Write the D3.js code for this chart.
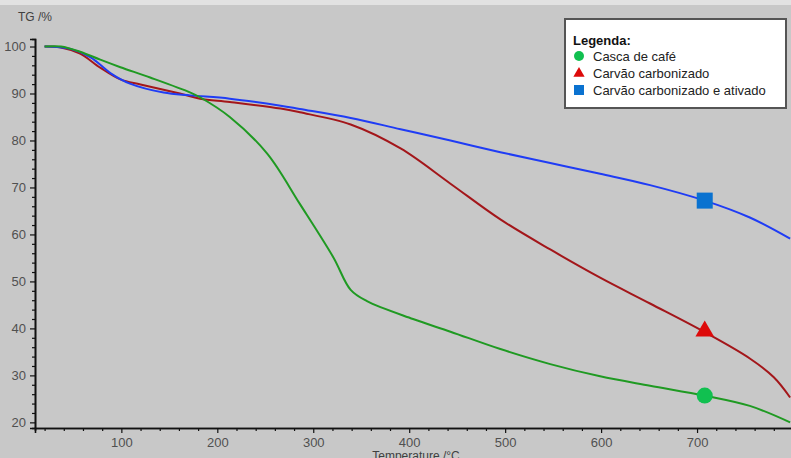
<!DOCTYPE html>
<html>
<head>
<meta charset="utf-8">
<script src="https://cdn.jsdelivr.net/npm/d3@7"></script>
<style>
  body { margin: 0; background: #c8c8c8; }
  text { font-family: Arial, "Liberation Sans", sans-serif; }
</style>
</head>
<body>
<div id="chart"></div>
<script>
// data (temperature in °C, mass in %)
var tempCafe   = [20, 37, 57, 78, 99, 130, 172, 182, 213, 252, 286, 321, 339, 356, 404, 443, 495, 547, 599, 651, 708, 755, 797];
var massCafe   = [100, 100, 98.9, 97.2, 95.6, 93.4, 90.2, 89.2, 85, 77.2, 66.5, 55.1, 48.2, 45.8, 42.0, 39.3, 35.6, 32.4, 29.8, 27.8, 25.7, 23.5, 20];

var tempCarv   = [20, 37, 57, 78, 99, 120, 161, 182, 213, 266, 286, 339, 391, 443, 495, 547, 599, 651, 708, 755, 780, 797];
var massCarv   = [100, 99.8, 98.5, 95.5, 93, 91.9, 90, 88.9, 88.2, 86.8, 86.0, 83.4, 78.3, 70.8, 63.2, 56.8, 50.8, 45.3, 39.2, 33.6, 29.6, 25.3];

var tempAtiv   = [20, 47, 68, 89, 109, 144, 172, 213, 266, 286, 339, 391, 443, 495, 547, 599, 651, 708, 755, 797];
var massAtiv   = [100, 99.5, 97.7, 94.3, 92.1, 90.2, 89.6, 88.9, 87.4, 86.7, 84.8, 82.4, 80.0, 77.5, 75.2, 72.9, 70.5, 67.2, 63.6, 59.1];

var xTicks = [100, 200, 300, 400, 500, 600, 700];
var yTicks = [20, 30, 40, 50, 60, 70, 80, 90, 100];
var markerTemp = 708;

var seriesNames = ["Casca de café", "Carvão carbonizado", "Carvão carbonizado e ativado"];

var width = 791, height = 458;

var svg = d3.select("#chart")
  .append("svg")
    .attr("width", width)
    .attr("height", height);

svg.append("rect").attr("width", width).attr("height", height).attr("fill", "#c8c8c8");
svg.append("rect").attr("width", width).attr("height", 5).attr("fill", "#e2e2e2");

var x = d3.scaleLinear().domain([10, 800]).range([35, 793]);
var y = d3.scaleLinear().domain([18.8, 101.6]).range([428, 39]);

// minor ticks
var xMinor = d3.range(20, 800, 20).filter(function(t) { return t % 100 != 0; });
var yMinor = d3.range(20, 102, 2).filter(function(v) { return v % 10 != 0; });

var gx = svg.append("g").attr("transform", "translate(0,428)");
gx.call(d3.axisBottom(x).tickValues(xMinor).tickSize(3).tickFormat(""));
gx.append("g").call(d3.axisBottom(x).tickValues(xTicks).tickSize(5).tickPadding(5));

var gy = svg.append("g").attr("transform", "translate(35,0)");
gy.call(d3.axisLeft(y).tickValues(yMinor).tickSize(3).tickFormat(""));
gy.append("g").call(d3.axisLeft(y).tickValues(yTicks).tickSize(5).tickPadding(4));

svg.selectAll(".domain").attr("stroke", "#111").attr("stroke-width", 1.6);
svg.selectAll(".tick line").attr("stroke", "#111").attr("stroke-width", 1.2);
svg.selectAll(".tick text")
  .style("font-size", "13px")
  .style("fill", "#505050");

svg.append("text")
  .attr("x", 18).attr("y", 21)
  .style("font-size", "12px")
  .style("fill", "#404040")
  .text("TG /%");

svg.append("text")
  .attr("x", 416).attr("y", 460)
  .attr("text-anchor", "middle")
  .style("font-size", "12px")
  .style("fill", "#404040")
  .text("Temperature /°C");

// curves
var line = d3.line()
  .x(function(d) { return x(d[0]); })
  .y(function(d) { return y(d[1]); })
  .curve(d3.curveCatmullRom.alpha(0.5));

function pairs(t, m) { return t.map(function(v, i) { return [v, m[i]]; }); }

var curves = [
  { pts: pairs(tempCarv, massCarv), color: "#a3161a" },
  { pts: pairs(tempAtiv, massAtiv), color: "#1f3cf5" },
  { pts: pairs(tempCafe, massCafe), color: "#1f9a22" }
];

svg.selectAll("path.curve")
  .data(curves)
  .enter()
  .append("path")
    .attr("class", "curve")
    .attr("d", function(d) { return line(d.pts); })
    .style("fill", "none")
    .style("stroke", function(d) { return d.color; })
    .style("stroke-width", 2);

function valueAt(t, m, T) {
  for (var i = 0; i < t.length - 1; i++) {
    if (T >= t[i] && T <= t[i + 1]) {
      return m[i] + (m[i + 1] - m[i]) * (T - t[i]) / (t[i + 1] - t[i]);
    }
  }
  return m[m.length - 1];
}

var mx = x(markerTemp);
svg.append("circle")
  .attr("cx", mx).attr("cy", y(valueAt(tempCafe, massCafe, markerTemp)))
  .attr("r", 8).attr("fill", "#11c050");
svg.append("path")
  .attr("d", d3.symbol().type(d3.symbolTriangle).size(150)())
  .attr("transform", "translate(" + mx + "," + (y(valueAt(tempCarv, massCarv, markerTemp)) - 1) + ")")
  .attr("fill", "#dd0a0a");
svg.append("rect")
  .attr("x", mx - 8).attr("y", y(valueAt(tempAtiv, massAtiv, markerTemp)) - 8)
  .attr("width", 16).attr("height", 16)
  .attr("fill", "#0a72d0");

// legend
var leg = svg.append("g").attr("transform", "translate(565,19)");
leg.append("rect")
  .attr("width", 221).attr("height", 89)
  .attr("fill", "#ffffff")
  .attr("stroke", "#555").attr("stroke-width", 2);
leg.append("text")
  .attr("x", 8).attr("y", 26)
  .style("font-size", "13px").style("font-weight", "bold").style("fill", "#111")
  .text("Legenda:");

var legY = [37, 54, 71];
leg.append("circle").attr("cx", 14).attr("cy", legY[0]).attr("r", 5).attr("fill", "#11c050");
leg.append("path")
  .attr("d", d3.symbol().type(d3.symbolTriangle).size(55)())
  .attr("transform", "translate(14," + (legY[1] + 0.5) + ")")
  .attr("fill", "#dd0a0a");
leg.append("rect").attr("x", 9).attr("y", legY[2] - 5).attr("width", 10).attr("height", 10).attr("fill", "#0a72d0");

leg.selectAll("text.item")
  .data(seriesNames)
  .enter()
  .append("text")
    .attr("class", "item")
    .attr("x", 28)
    .attr("y", function(d, i) { return legY[i] + 5; })
    .style("font-size", "13px")
    .style("fill", "#222")
    .text(function(d) { return d; });
</script>
</body>
</html>
